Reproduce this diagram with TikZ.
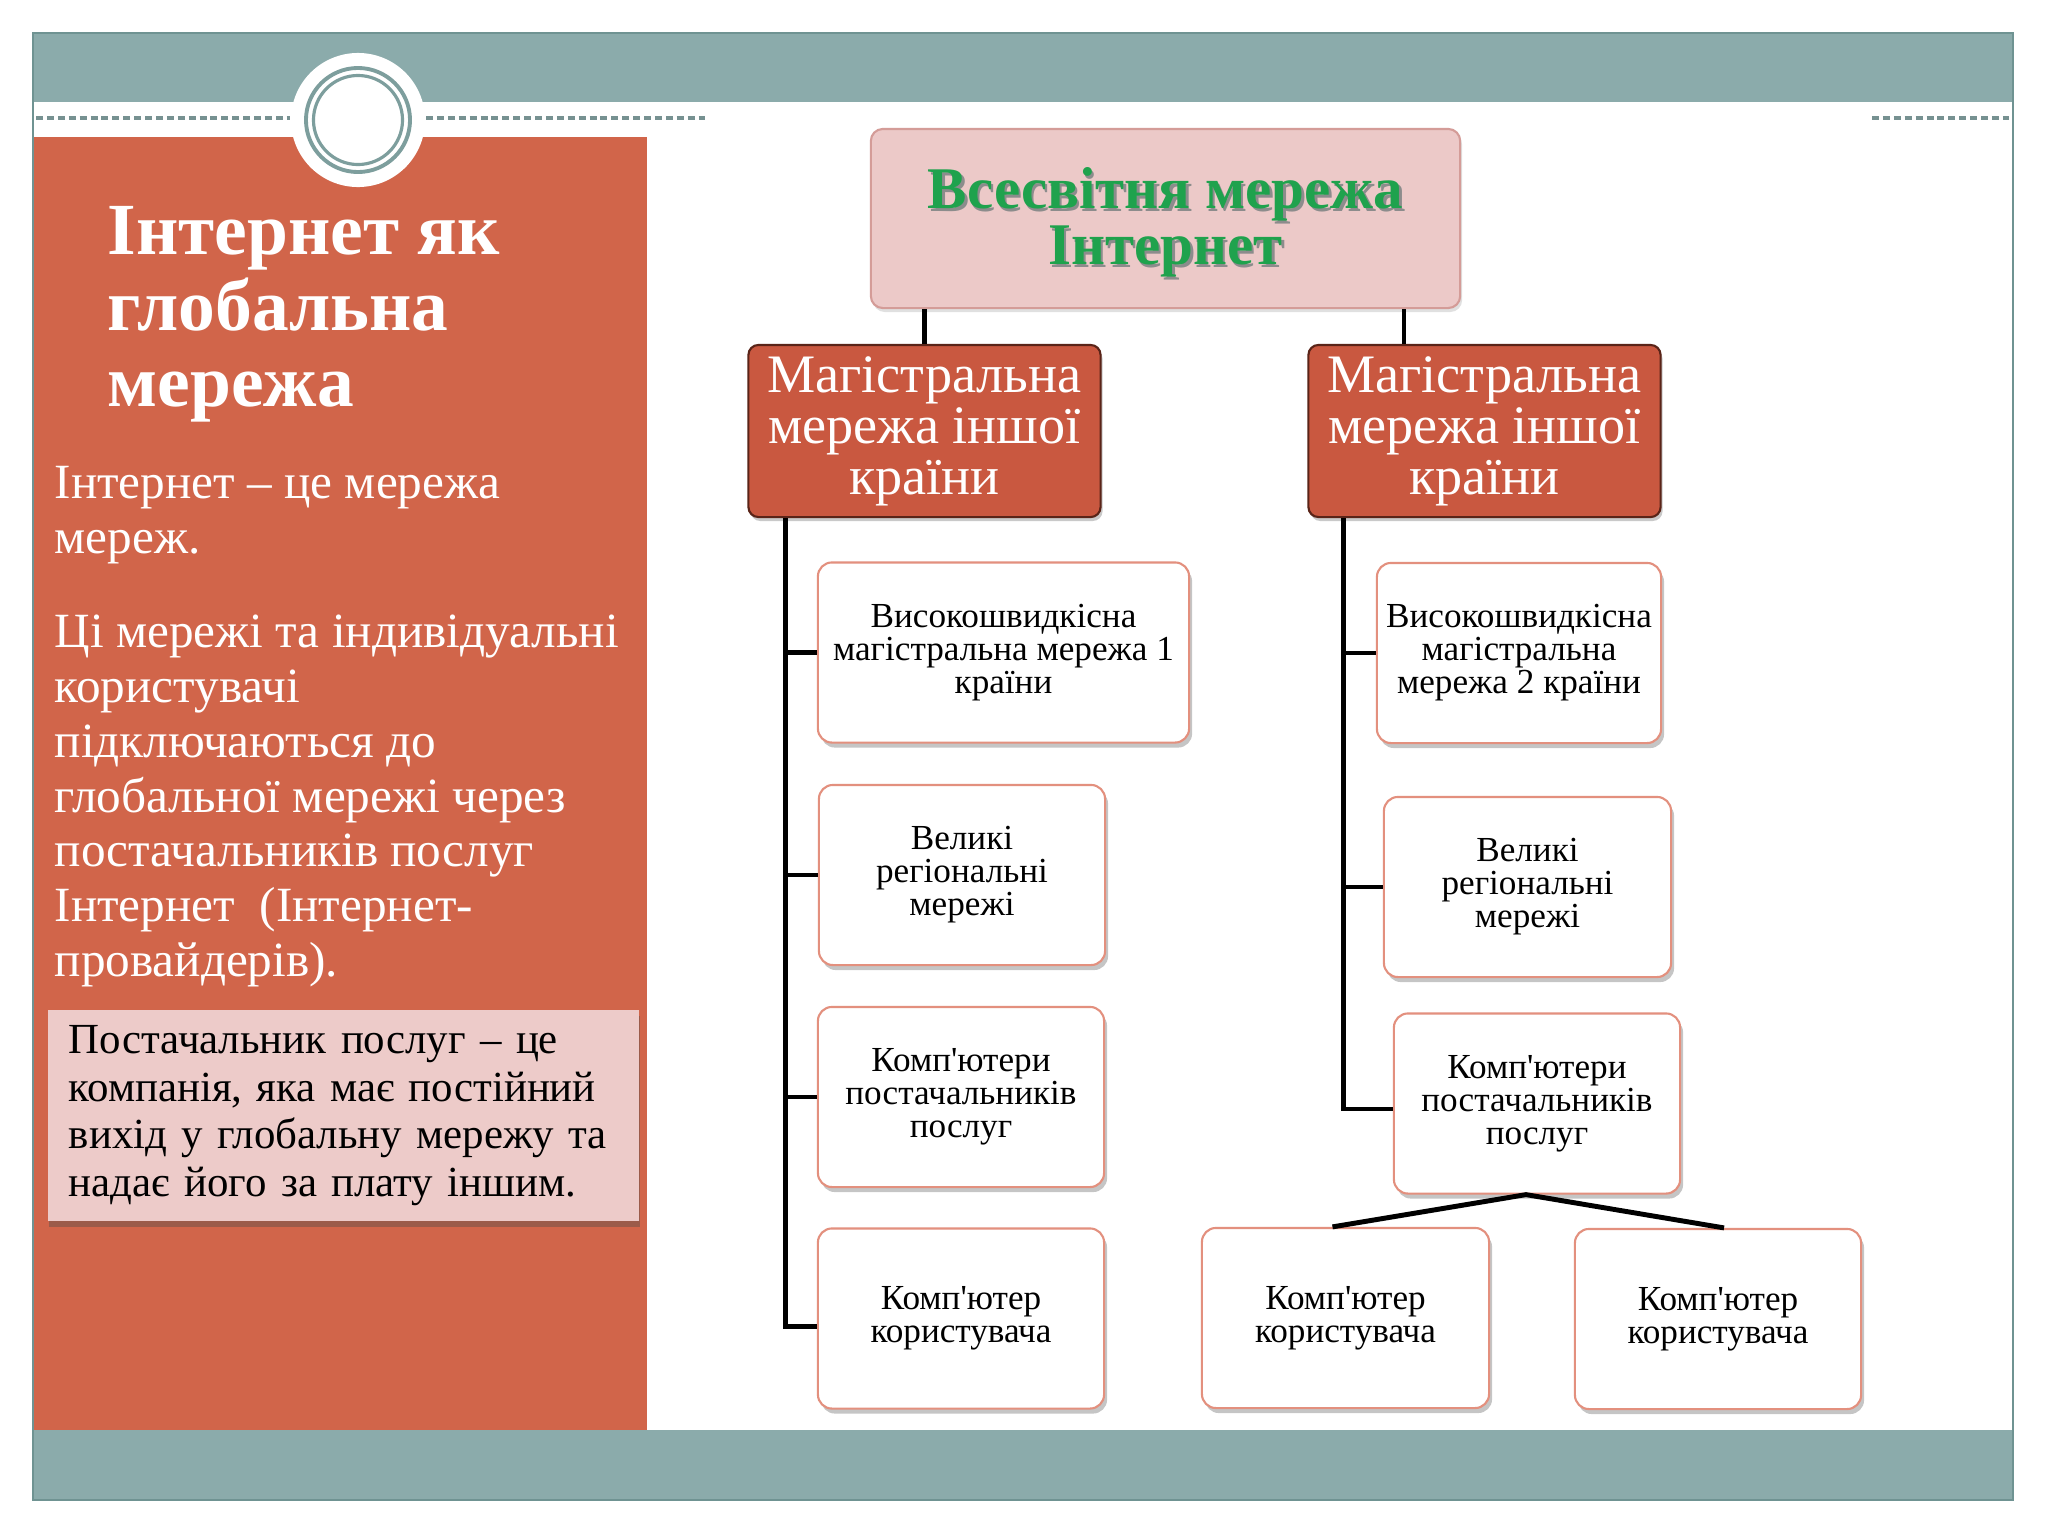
\documentclass[tikz,border=0pt]{standalone}
\usepackage{fontspec}
\setmainfont{Liberation Serif}
\newfontfamily\slidefont{Liberation Serif}
\usetikzlibrary{shadows}

\definecolor{slideteal}{HTML}{8BABAB}
\definecolor{tealdark}{HTML}{6F9392}
\definecolor{panelred}{HTML}{D1654A}
\definecolor{trunkred}{HTML}{C95840}
\definecolor{trunkedge}{HTML}{5A2418}
\definecolor{notepink}{HTML}{EDCBC9}
\definecolor{toppink}{HTML}{ECC9C8}
\definecolor{topedge}{HTML}{D49C98}
\definecolor{leafedge}{HTML}{E3907E}
\definecolor{webgreen}{HTML}{1FA24D}

\begin{document}
\slidefont
\begin{tikzpicture}[x=0.01cm,y=-0.01cm,
  link/.style={line width=1.4pt,black},
  leaf/.style={draw=leafedge,line width=0.6pt,fill=white,rounded corners=0.14cm,
    minimum width=2.86cm,minimum height=1.8cm,align=center,inner sep=1pt,
    font=\fontsize{10}{9.4}\selectfont,
    drop shadow={shadow xshift=0.03cm,shadow yshift=-0.05cm,fill=black!50,opacity=0.45}},
  trunk/.style={draw=trunkedge,line width=0.6pt,fill=trunkred,text=white,rounded corners=0.1cm,
    minimum width=3.52cm,minimum height=1.72cm,align=center,inner sep=0pt,
    font=\fontsize{15.4}{14.5}\selectfont,
    drop shadow={shadow xshift=0.02cm,shadow yshift=-0.04cm,fill=black!60,opacity=0.35}},
  webtext/.style={align=center,font=\fontsize{16.8}{16}\selectfont\bfseries},
  paneltext/.style={anchor=west,align=left,text=white,inner sep=0pt},
]
\useasboundingbox (0,0) rectangle (2048,1536);
\fill[white] (0,0) rectangle (2048,1536);
% slide frame and bands
\fill[slideteal] (33,33) rectangle (2013,102);
\fill[slideteal] (33,1430) rectangle (2013,1500);
\fill[panelred] (33,137) rectangle (647,1430);
\draw[tealdark,line width=0.5pt] (33,33) rectangle (2013,1500);
% dashed rules under the band
\draw[slideteal!85!black,line width=1pt,dash pattern=on 2pt off 1.1pt] (36,118) -- (290,118);
\draw[slideteal!85!black,line width=1pt,dash pattern=on 2pt off 1.1pt] (426,118) -- (705,118);
\draw[slideteal!85!black,line width=1pt,dash pattern=on 2pt off 1.1pt] (1872,118) -- (2009,118);
% ring ornament
\fill[white] (358,120) circle (0.67cm);
\draw[tealdark!90,line width=1.1pt] (358,120) circle (0.52cm);
\draw[tealdark!90,line width=0.9pt] (358,120) circle (0.445cm);

% ---------- left panel ----------
\node[paneltext,font=\fontsize{20.9}{21.6}\selectfont\bfseries] (title) at (107,314)
  {Інтернет як\\глобальна\\мережа};
\node[paneltext,font=\fontsize{14}{15.6}\selectfont] (body1) at (54,515)
  {Інтернет – це мережа\\мереж.};
\node[paneltext,font=\fontsize{14}{15.6}\selectfont] (body2) at (54,801)
  {Ці мережі та індивідуальні\\користувачі\\підключаються до\\глобальної мережі через\\постачальників послуг\\Інтернет~ (Інтернет-\\провайдерів).};
\node[fill=notepink,minimum width=5.91cm,minimum height=2.11cm,text width=5.49cm,
  align=left,inner sep=0pt,font=\fontsize{12.2}{13.5}\selectfont,
  drop shadow={shadow xshift=0.01cm,shadow yshift=-0.06cm,fill=black!70,opacity=0.4}]
  (note) at (343.5,1115.5)
  {Постачальник послуг – це\\компанія, яка має постійний\\вихід у глобальну мережу та\\надає його за плату іншим.};

% ---------- diagram ----------
\node[fill=toppink,draw=topedge,line width=0.6pt,rounded corners=0.12cm,
  minimum width=5.89cm,minimum height=1.79cm,
  drop shadow={shadow xshift=0.02cm,shadow yshift=-0.04cm,fill=black!40,opacity=0.3}]
  (web) at (1165.5,218.5) {};
\node[webtext,text=black!45] (webshade) at ([xshift=0.025cm,yshift=-0.065cm]web.center)
  {Всесвітня мережа\\Інтернет};
\node[webtext,text=webgreen] (webtitle) at ([yshift=-0.04cm]web.center) {Всесвітня мережа\\Інтернет};

\node[trunk] (trunkL) at (924.5,431) {Магістральна\\мережа іншої\\країни};
\node[trunk] (trunkR) at (1484.5,431) {Магістральна\\мережа іншої\\країни};

% left column
\node[leaf,minimum width=3.71cm] (l1) at (1003.5,652.5) {Високошвидкісна\\магістральна мережа 1\\країни};
\node[leaf] (l2) at (962,875) {Великі\\регіональні\\мережі};
\node[leaf] (l3) at (961,1097) {Комп'ютери\\постачальників\\послуг};
\node[leaf] (l4) at (961,1318.5) {Комп'ютер\\користувача};

% right column
\node[leaf,minimum width=2.84cm] (r1) at (1519,653) {Високошвидкісна\\магістральна\\мережа 2 країни};
\node[leaf,minimum width=2.87cm] (r2) at (1527.5,887) {Великі\\регіональні\\мережі};
\node[leaf] (r3) at (1537,1103.5) {Комп'ютери\\постачальників\\послуг};
\node[leaf,minimum width=2.87cm] (u1) at (1345.5,1318) {Комп'ютер\\користувача};
\node[leaf] (u2) at (1718,1319) {Комп'ютер\\користувача};

% connectors
\draw[link] (trunkL.north |- web.south) -- (trunkL.north);
\draw[link] ([xshift=-0.805cm]trunkR.north |- web.south) -- ([xshift=-0.805cm]trunkR.north);
\coordinate (spineL) at ([xshift=0.38cm]trunkL.south west);
\coordinate (spineR) at ([xshift=0.36cm]trunkR.south west);
\draw[link] (spineL) |- ([yshift=-0.08cm]l4.west);
\draw[link] (spineL |- l1.west) -- (l1.west);
\draw[link] (spineL |- l2.west) -- (l2.west);
\draw[link] (spineL |- l3.west) -- (l3.west);
\draw[link] (spineR) |- ([yshift=-0.055cm]r3.west);
\draw[link] (spineR |- r1.west) -- (r1.west);
\draw[link] (spineR |- r2.west) -- (r2.west);
\draw[link] ([xshift=-0.13cm]u1.north) -- ([xshift=-0.11cm]r3.south) -- ([xshift=0.06cm]u2.north);
\end{tikzpicture}
\end{document}
